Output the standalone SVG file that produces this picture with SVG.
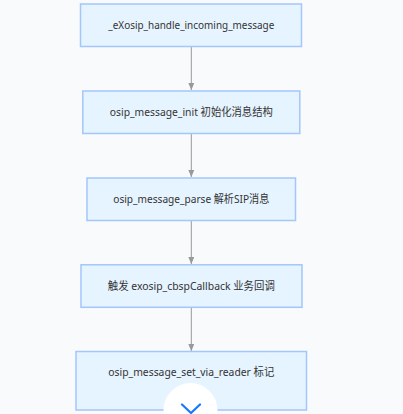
<svg xmlns="http://www.w3.org/2000/svg" width="403" height="414" viewBox="0 0 403 414">
<defs>
<style>
.node rect{fill:#e6f4ff;stroke:#a3c6fb;stroke-width:1.5}
.node text{font-family:"Noto Sans","Noto Sans CJK SC",sans-serif;font-size:11px;fill:#333;text-anchor:middle}
.edge{stroke:#999;stroke-width:1;fill:none}
</style>
<marker id="arr" viewBox="0 0 7 6" refX="7" refY="3" markerWidth="7" markerHeight="6" orient="auto" markerUnits="userSpaceOnUse">
<path d="M0,0 L7,3 L0,6 Z" fill="#999"/>
</marker>
</defs>
<rect width="403" height="414" fill="#f9fafb"/>
<g id="connectors">
<path class="edge" d="M191.3,47 V90" marker-end="url(#arr)"/>
<path class="edge" d="M191.3,134 V177" marker-end="url(#arr)"/>
<path class="edge" d="M191.3,221 V264" marker-end="url(#arr)"/>
<path class="edge" d="M191.3,308 V351" marker-end="url(#arr)"/>
</g>
<g id="n1" class="node">
<rect x="80.5" y="4" width="221" height="42.5"/>
<text x="191.3" y="29" textLength="166" lengthAdjust="spacingAndGlyphs">_eXosip_handle_incoming_message</text>
</g>
<g id="n2" class="node">
<rect x="82.8" y="91" width="217" height="42.5"/>
<text x="191.3" y="116" textLength="163" lengthAdjust="spacingAndGlyphs">osip_message_init 初始化消息结构</text>
</g>
<g id="n3" class="node">
<rect x="87" y="178" width="208.5" height="42.5"/>
<text x="191.3" y="203" textLength="156" lengthAdjust="spacingAndGlyphs">osip_message_parse 解析SIP消息</text>
</g>
<g id="n4" class="node">
<rect x="81" y="264.8" width="221" height="42.5"/>
<text x="191.3" y="290" textLength="167" lengthAdjust="spacingAndGlyphs">触发 exosip_cbspCallback 业务回调</text>
</g>
<g id="n5" class="node">
<rect x="76" y="351.5" width="230.5" height="58.5"/>
<text x="191.3" y="376" textLength="166" lengthAdjust="spacingAndGlyphs">osip_message_set_via_reader 标记</text>
</g>
<g id="scroll-button">
<circle cx="190.5" cy="410" r="27" fill="#ffffff"/>
<path d="M182,404.5 L191,413 L200,404.5" fill="none" stroke="#1677ff" stroke-width="2.2" stroke-linecap="round" stroke-linejoin="round"/>
</g>
</svg>
